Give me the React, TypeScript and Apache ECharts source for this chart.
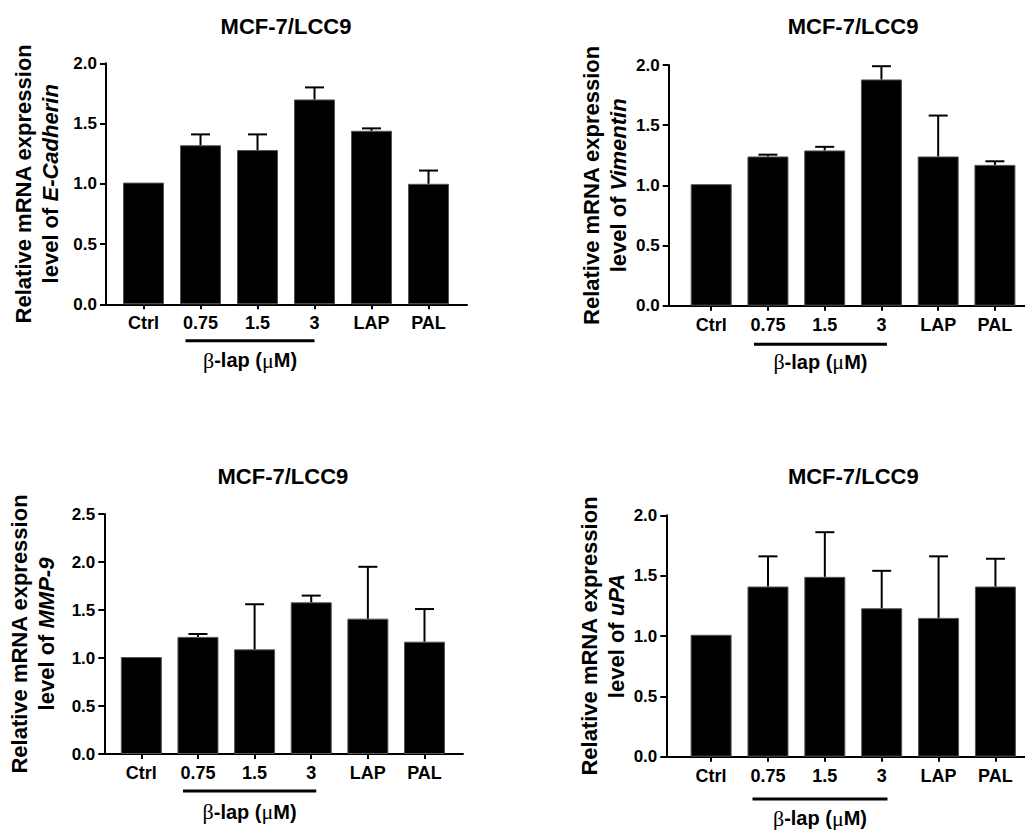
import React, { useEffect, useRef } from "react";
import * as echarts from "echarts";

// ---- data ----
const categories = ["Ctrl", "0.75", "1.5", "3", "LAP", "PAL"];
const chartTitle = "MCF-7/LCC9";
const genes = ["E-Cadherin", "Vimentin", "MMP-9", "uPA"];

const eCadherinMean = [1.01, 1.32, 1.28, 1.7, 1.44, 1.0];
const eCadherinErr = [0, 0.09, 0.13, 0.1, 0.02, 0.11];
const vimentinMean = [1.01, 1.24, 1.29, 1.88, 1.24, 1.17];
const vimentinErr = [0, 0.015, 0.03, 0.11, 0.34, 0.03];
const mmp9Mean = [1.01, 1.22, 1.09, 1.58, 1.41, 1.17];
const mmp9Err = [0, 0.03, 0.47, 0.07, 0.54, 0.34];
const uPAMean = [1.01, 1.41, 1.49, 1.23, 1.15, 1.41];
const uPAErr = [0, 0.25, 0.37, 0.31, 0.51, 0.23];

const yMaxes = [2.0, 2.0, 2.5, 2.0];
const yInterval = 0.5;
const treatmentLabel = ["β", "-lap (", "μ", "M)"];

const means = [eCadherinMean, vimentinMean, mmp9Mean, uPAMean];
const errs = [eCadherinErr, vimentinErr, mmp9Err, uPAErr];

// ---- layout ----
const layout = [
  { left: 106, top: 63.3, width: 361, height: 241, xMin: -0.658, xMax: 5.675, nameGap: 42, lineY: 36.4, textY: 55.7, lineStart: -15, lineEnd: 0, titleY: 26 },
  { left: 668.7, top: 65, width: 357.3, height: 240.7, xMin: -0.749, xMax: 5.53, nameGap: 37, lineY: 38.6, textY: 56, lineStart: -14, lineEnd: 5.5, titleY: 26 },
  { left: 104.3, top: 514, width: 358.7, height: 240, xMin: -0.654, xMax: 5.68, nameGap: 44, lineY: 37, textY: 57.7, lineStart: -15, lineEnd: 5, titleY: 476 },
  { left: 666.3, top: 515.3, width: 359.7, height: 241.4, xMin: -0.788, xMax: 5.52, nameGap: 32.5, lineY: 42.3, textY: 61.6, lineStart: -15.5, lineEnd: 5.8, titleY: 476 },
];

const FONT = '"Liberation Sans", Arial, Helvetica, sans-serif';

export default function App() {
  const ref = useRef<HTMLDivElement>(null);

  useEffect(() => {
    if (!ref.current) return;
    const chart = echarts.init(ref.current, null, { renderer: "svg" });

    const grids: any[] = [];
    const xAxes: any[] = [];
    const yAxes: any[] = [];
    const series: any[] = [];

    layout.forEach((L, k) => {
      grids.push({ left: L.left, top: L.top, width: L.width, height: L.height, containLabel: false });
      xAxes.push({
        type: "value",
        gridIndex: k,
        min: L.xMin,
        max: L.xMax,
        splitLine: { show: false },
        axisLine: { show: true, onZero: false, lineStyle: { color: "#000", width: 2 } },
        axisTick: { show: true, customValues: categories.map((_, i) => i), length: 5, inside: false, lineStyle: { color: "#000", width: 2 } },
        axisLabel: {
          show: true,
          customValues: categories.map((_, i) => i),
          formatter: (v: number) => categories[Math.round(v)] ?? "",
          fontSize: 18,
          fontWeight: "bold",
          color: "#000",
          fontFamily: FONT,
          margin: 10,
        },
      });
      yAxes.push({
        type: "value",
        gridIndex: k,
        min: 0,
        max: yMaxes[k],
        interval: yInterval,
        splitLine: { show: false },
        axisLine: { show: true, onZero: false, lineStyle: { color: "#000", width: 2 } },
        axisTick: { show: true, length: 6, inside: false, lineStyle: { color: "#000", width: 2 } },
        axisLabel: {
          formatter: (v: number) => v.toFixed(1),
          fontSize: 17,
          fontWeight: "bold",
          color: "#000",
          fontFamily: FONT,
          margin: 9,
        },
        name: "Relative mRNA expression\nlevel of {i|" + genes[k] + "}",
        nameLocation: "middle",
        nameGap: L.nameGap,
        nameTextStyle: {
          fontSize: 22,
          fontWeight: "bold",
          color: "#000",
          fontFamily: FONT,
          lineHeight: 27,
          rich: {
            i: { fontSize: 22, fontWeight: "bold", fontStyle: "italic", color: "#000", fontFamily: FONT, lineHeight: 27 },
          },
        },
      });
      series.push({
        type: "bar",
        xAxisIndex: k,
        yAxisIndex: k,
        barWidth: 41,
        itemStyle: { color: "#000", borderColor: "#555", borderWidth: 1 },
        data: means[k].map((v, i) => [i, v]),
        z: 2,
      });
      series.push({
        type: "custom",
        xAxisIndex: k,
        yAxisIndex: k,
        z: 3,
        encode: { x: 0, y: [1, 2] },
        data: means[k].map((v, i) => [i, v, v + errs[k][i]]),
        renderItem: (params: any, api: any) => {
          const x = api.value(0);
          const m = api.value(1);
          const t = api.value(2);
          if (!(t > m)) return null;
          const p0 = api.coord([x, m]);
          const p1 = api.coord([x, t]);
          const half = 9.5;
          return {
            type: "group",
            children: [
              { type: "line", shape: { x1: p0[0], y1: p0[1], x2: p1[0], y2: p1[1] }, style: { stroke: "#000", lineWidth: 2 } },
              { type: "line", shape: { x1: p1[0] - half, y1: p1[1], x2: p1[0] + half, y2: p1[1] }, style: { stroke: "#000", lineWidth: 2 } },
            ],
          };
        },
      });
    });

    chart.setOption({
      animation: false,
      backgroundColor: "#fff",
      textStyle: { fontFamily: FONT, color: "#000" },
      grid: grids,
      xAxis: xAxes,
      yAxis: yAxes,
      series,
    });

    const graphics: any[] = [];
    layout.forEach((L, k) => {
      const xs = chart.convertToPixel({ xAxisIndex: k } as any, 1) as number;
      const xe = chart.convertToPixel({ xAxisIndex: k } as any, 3) as number;
      const xm = chart.convertToPixel({ xAxisIndex: k } as any, 2.5) as number;
      const y0 = chart.convertToPixel({ yAxisIndex: k } as any, 0) as number;
      const x1 = xs + L.lineStart;
      const x2 = xe + L.lineEnd;
      graphics.push({
        type: "text",
        x: xm,
        y: L.titleY,
        style: { text: chartTitle, fontSize: 22, fontWeight: "bold", fontFamily: FONT, fill: "#000", align: "center", verticalAlign: "middle" },
      });
      graphics.push({
        type: "line",
        shape: { x1, y1: y0 + L.lineY, x2, y2: y0 + L.lineY },
        style: { stroke: "#000", lineWidth: 3 },
      });
      graphics.push({
        type: "text",
        x: (x1 + x2) / 2,
        y: y0 + L.textY,
        style: {
          text: "{g|" + treatmentLabel[0] + "}{b|" + treatmentLabel[1] + "}{g|" + treatmentLabel[2] + "}{b|" + treatmentLabel[3] + "}",
          align: "center",
          verticalAlign: "middle",
          fill: "#000",
          rich: {
            g: { fontSize: 22, fontFamily: '"Liberation Serif", "DejaVu Serif", serif', fontWeight: "normal", fill: "#000" },
            b: { fontSize: 20, fontFamily: FONT, fontWeight: "bold", fill: "#000" },
          },
        },
      });
    });
    chart.setOption({ graphic: graphics });

    return () => chart.dispose();
  }, []);

  return (
    <div
      ref={ref}
      style={{ position: "absolute", left: 0, top: 0, width: 1025, height: 830, background: "#fff" }}
    />
  );
}
